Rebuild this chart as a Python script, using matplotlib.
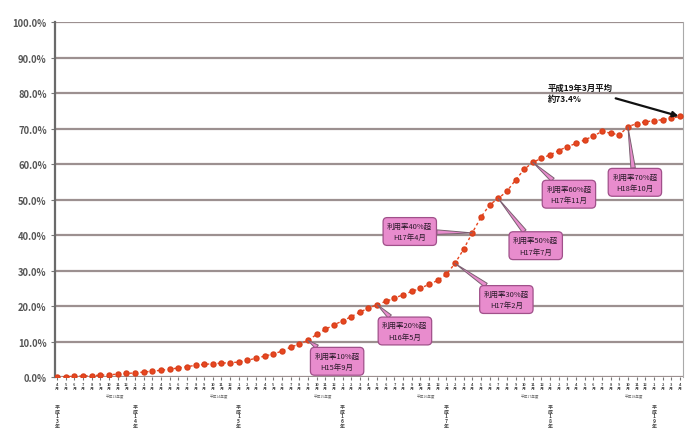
import numpy as np
import matplotlib
matplotlib.use("Agg")
import matplotlib.pyplot as plt
import matplotlib.transforms as mtransforms

plt.rcParams['font.family'] = ['Noto Sans CJK JP', 'DejaVu Sans']

# monthly ETC usage rate (%), H13.4 - H19.4
rate = [0.0, 0.1, 0.2, 0.3, 0.4, 0.5, 0.65, 0.8, 1.0, 1.15,
        1.4, 1.65, 1.9, 2.2, 2.55, 2.9, 3.3, 3.55, 3.75, 3.9,
        4.05, 4.2, 4.7, 5.3, 5.9, 6.5, 7.3, 8.4, 9.3, 10.3,
        12.0, 13.4, 14.7, 15.8, 17.0, 18.3, 19.4, 20.4, 21.3, 22.2,
        23.2, 24.1, 25.0, 26.1, 27.2, 28.9, 32.0, 36.0, 40.6, 45.0,
        48.5, 50.3, 52.3, 55.5, 58.5, 60.5, 61.6, 62.6, 63.8, 64.9,
        65.8, 66.8, 67.9, 69.2, 68.7, 68.2, 70.5, 71.4, 71.9, 72.2,
        72.5, 72.9, 73.4]
start_year, start_month = 2001, 4
year_idx = [0, 9, 21, 33, 45, 57, 69]
year_labels = ["平成13年", "平成14年", "平成15年", "平成16年", "平成17年", "平成18年", "平成19年"]

# callouts: (index, text, box offset in points)
callouts = [
    (29, "利用率10%超\nH15年9月", (21, -15)),
    (37, "利用率20%超\nH16年5月", (20, -19)),
    (46, "利用率30%超\nH17年2月", (37, -26)),
    (48, "利用率40%超\nH17年4月", (-45, 1)),
    (51, "利用率50%超\nH17年7月", (27, -34)),
    (55, "利用率60%超\nH17年11月", (26, -23)),
    (66, "利用率70%超\nH18年10月", (5, -40)),
]

x = np.arange(len(rate))
months = [(start_month - 1 + i) % 12 + 1 for i in x]

fig = plt.figure(figsize=(6.87, 4.35), dpi=100)
ax = fig.add_axes([0.080, 0.131, 0.914, 0.816])

ax.plot(x, rate, color='#e8461f', lw=1.0, ls=(0, (2, 2)),
        marker='o', ms=3.6, mfc='#e8461f', mec='#d8401c', zorder=5)

ax.set_xlim(-0.25, 72.35)
ax.set_ylim(0, 100)
ax.set_yticks(np.arange(0, 101, 10))
ax.set_yticklabels([f"{v:.1f}%" for v in range(0, 101, 10)], fontsize=6.8,
                   color='#555555', fontweight='bold')
ax.yaxis.grid(True, color='#9c9090', lw=1.6)
ax.set_axisbelow(True)
ax.tick_params(axis='y', length=3, color='#777777', pad=3)

ax.set_xticks(x)
ax.set_xticklabels([f"{m}\n月" for m in months],
                   fontsize=2.8, color='#444444', linespacing=1.15, fontweight='bold')
ax.tick_params(axis='x', length=2, color='#777777', pad=1.5)

for s in ['top', 'bottom']:
    ax.spines[s].set_visible(False)
ax.spines['left'].set_color('#6a6a6a')
ax.spines['left'].set_linewidth(1.6)
ax.spines['right'].set_color('#aaaaaa')
ax.spines['right'].set_linewidth(0.8)

trans = mtransforms.blended_transform_factory(ax.transData, ax.transAxes)
for k, (xi, lab) in enumerate(zip(year_idx, year_labels)):
    ax.text(xi, -0.075, "\n".join(lab), transform=trans, ha='center', va='top',
            fontsize=3.6, linespacing=0.95, color='#444444', fontweight='bold')
    if k > 0:
        ax.text(xi - 2.3, -0.047, f"{year_labels[k - 1]}度", transform=trans,
                ha='center', va='top', fontsize=2.6, color='#666666')

pink = '#e88ccd'
for i, txt, off in callouts:
    ax.annotate(txt, xy=(i, rate[i]), xytext=off, textcoords='offset points',
                ha='center', va='center', fontsize=5.4, color='#2a1a2a',
                linespacing=1.6, zorder=6,
                bbox=dict(boxstyle='round,pad=0.55', fc=pink, ec='#a0508a', lw=0.9),
                arrowprops=dict(arrowstyle='wedge,tail_width=0.6', fc=pink,
                                ec='#7a6070', lw=0.7, shrinkA=0, shrinkB=0))

ax.annotate("平成19年3月平均\n約73.4%", xy=(x[-1], rate[-1]), xytext=(-95, 17),
            textcoords='offset points', ha='left', va='center', fontsize=6,
            fontweight='bold', color='#111111', linespacing=1.3, zorder=7,
            arrowprops=dict(arrowstyle='-|>', color='#111111', lw=1.6,
                            mutation_scale=8, shrinkA=0, shrinkB=1,
                            relpos=(0.8, 0.45)))

fig.savefig("out.png", dpi=100)
